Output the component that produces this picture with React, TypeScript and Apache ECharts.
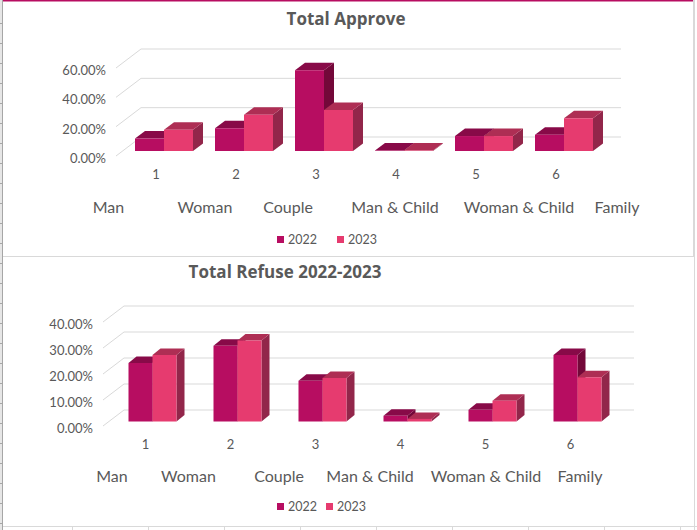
import React, { useEffect, useRef } from "react";
import * as echarts from "echarts";

const tickLabels = ["1", "2", "3", "4", "5", "6"];
const seriesNames = ["2022", "2023"];
const categoryNames = ["Man", "Woman", "Couple", "Man & Child", "Woman & Child", "Family"];

const approve2022 = [8.5, 15.5, 55, 0.3, 10.2, 11.1];
const approve2023 = [14.5, 24.8, 28, 0.3, 10.2, 22.3];
const refuse2022 = [22.5, 29.1, 15.7, 2.2, 4.5, 25.6];
const refuse2023 = [25.6, 31.2, 16.7, 1.0, 8.0, 17.0];

const approveTicks = [0, 20, 40, 60];
const refuseTicks = [0, 10, 20, 30, 40];

const approveNameX = [108.5, 205, 288, 395, 519, 617];
const refuseNameX = [112, 188.5, 279, 370, 486, 580];

const FONT = "Lato";
const TEXT = "#595959";
const FACES = [
  { front: "#B70D61", top: "#880A48", side: "#730839" },
  { front: "#E63B6F", top: "#AE2E54", side: "#92264A" },
];

const layouts = [
  { left: 116, width: 480, top: 68, height: 88, max: 60, wallDx: 25, wallDy: -19, barRatio: 29 / 80, shift: 8, base: -5, depthX: 10, depthY: 7.5 },
  { left: 103, width: 510, top: 322, height: 104, max: 40, wallDx: 21, wallDy: -16, barRatio: 24 / 85, shift: 7, base: -4.5, depthX: 8, depthY: 6.5 },
];

function wallRender(layoutIdx: number) {
  const l = layouts[layoutIdx];
  return (_: any, api: any) => {
    const v = api.value(0);
    const p = api.coord([0, v]);
    const x0 = l.left;
    const y = p[1];
    return {
      type: "polyline",
      silent: true,
      shape: {
        points: [
          [x0, y],
          [x0 + l.wallDx, y + l.wallDy],
          [x0 + l.width + l.wallDx, y + l.wallDy],
        ],
      },
      style: { fill: "none", stroke: "#D9D9D9", lineWidth: 1 },
    };
  };
}

function barRender(layoutIdx: number, seriesIdx: number) {
  const l = layouts[layoutIdx];
  const c = FACES[seriesIdx];
  return (_: any, api: any) => {
    const cat = api.value(0);
    const top = api.coord([cat, api.value(1)]);
    const bottom = api.coord([cat, 0]);
    const w = api.size([1, 0])[0] * l.barRatio;
    const x0 = top[0] + l.shift - w + seriesIdx * w;
    const x1 = x0 + w;
    const yB = bottom[1] + l.base;
    const yT = top[1] + l.base;
    const dx = l.depthX;
    const dy = l.depthY;
    return {
      type: "group",
      children: [
        { type: "polygon", shape: { points: [[x1, yB], [x1 + dx, yB - dy], [x1 + dx, yT - dy], [x1, yT]] }, style: { fill: c.side } },
        { type: "polygon", shape: { points: [[x0, yT], [x1, yT], [x1 + dx, yT - dy], [x0 + dx, yT - dy]] }, style: { fill: c.top } },
        { type: "rect", shape: { x: x0, y: yT, width: w, height: Math.max(yB - yT, 0) }, style: { fill: c.front } },
      ],
    };
  };
}

function makeSeries(name: string, values: number[], g: number, s: number) {
  return {
    type: "custom",
    name,
    xAxisIndex: g,
    yAxisIndex: g,
    coordinateSystem: "cartesian2d",
    clip: false,
    z: 5,
    itemStyle: { color: FACES[s].front },
    encode: { x: 0, y: 1 },
    data: values.map((v, i) => [i, v]),
    renderItem: barRender(g, s),
  };
}

function makeWall(ticks: number[], g: number) {
  return {
    type: "custom",
    xAxisIndex: g,
    yAxisIndex: g,
    coordinateSystem: "cartesian2d",
    clip: false,
    silent: true,
    z: 1,
    encode: { x: 1, y: 0 },
    data: ticks.map((t) => [t, 0]),
    renderItem: wallRender(g),
  };
}

function axes(g: number, interval: number) {
  const l = layouts[g];
  return {
    x: {
      type: "category",
      gridIndex: g,
      data: tickLabels,
      axisLine: { show: false },
      axisTick: { show: false },
      axisLabel: { color: TEXT, fontFamily: FONT, fontSize: 13, margin: 11 },
    },
    y: {
      type: "value",
      gridIndex: g,
      min: 0,
      max: l.max,
      interval,
      splitLine: { show: false },
      axisLine: { show: false },
      axisTick: { show: false },
      axisLabel: {
        color: TEXT,
        fontFamily: FONT,
        fontSize: 13,
        margin: 10,
        formatter: (v: number) => "{a|" + v.toFixed(2) + "%}",
        rich: { a: { color: TEXT, fontFamily: FONT, fontSize: 13, padding: [4, 0, 0, 0] } },
      },
    },
  };
}

function nameTexts(xs: number[], y: number) {
  return categoryNames.map((n, i) => ({
    type: "text",
    x: xs[i],
    y,
    style: { text: n, fill: TEXT, font: `16px ${FONT}`, textAlign: "center", textVerticalAlign: "middle" },
  }));
}

function frame() {
  const line = (x1: number, y1: number, x2: number, y2: number, stroke: string, lineWidth = 1) => ({
    type: "line",
    silent: true,
    shape: { x1, y1, x2, y2 },
    style: { stroke, lineWidth },
  });
  const out: any[] = [
    { type: "rect", silent: true, shape: { x: 0, y: 0, width: 2, height: 530 }, style: { fill: "#E6E6E6" } },
    line(2.5, 0, 2.5, 530, "#A6A6A6"),
    line(3, 0.75, 693, 0.75, "#B70D61", 1.5),
    line(3, 256.5, 694, 256.5, "#D9D9D9"),
    line(3, 526.5, 697, 526.5, "#D9D9D9"),
    line(694, 0, 694, 256, "#D9D9D9", 2),
    line(694.5, 256, 694.5, 530, "#D9D9D9"),
  ];
  for (let y = 23; y < 530; y += 20) out.push(line(0, y + 0.5, 2, y + 0.5, "#A6A6A6"));
  for (let x = 72; x < 697; x += 76) out.push(line(x + 0.5, 526, x + 0.5, 530, "#D9D9D9"));
  return out;
}

export default function App() {
  const ref = useRef<HTMLDivElement>(null);
  useEffect(() => {
    const chart = echarts.init(ref.current!, undefined, { renderer: "svg" });
    const a0 = axes(0, 20);
    const a1 = axes(1, 10);
    const legendText = { color: TEXT, fontFamily: FONT, fontSize: 12.5, padding: [0, 0, 0, -1] };
    chart.setOption({
      animation: false,
      backgroundColor: "#fff",
      title: [
        { text: "Total Approve", left: 341, top: 5, textAlign: "center", textStyle: { color: TEXT, fontFamily: "Open Sans", fontSize: 17, fontWeight: "bold" } },
        { text: "Total Refuse 2022-2023", left: 280, top: 258, textAlign: "center", textStyle: { color: TEXT, fontFamily: "Open Sans", fontSize: 17, fontWeight: "bold" } },
      ],
      legend: [
        { data: seriesNames, left: 272, top: 228, itemWidth: 7, itemHeight: 7, itemGap: 20, icon: "rect", textStyle: legendText },
        { data: seriesNames, left: 272, top: 495, itemWidth: 7, itemHeight: 7, itemGap: 9, icon: "rect", textStyle: legendText },
      ],
      grid: layouts.map((l) => ({ left: l.left, width: l.width, top: l.top, height: l.height, containLabel: false })),
      xAxis: [a0.x, a1.x],
      yAxis: [a0.y, a1.y],
      series: [
        makeWall(approveTicks, 0),
        makeWall(refuseTicks, 1),
        makeSeries(seriesNames[0], approve2022, 0, 0),
        makeSeries(seriesNames[1], approve2023, 0, 1),
        makeSeries(seriesNames[0], refuse2022, 1, 0),
        makeSeries(seriesNames[1], refuse2023, 1, 1),
      ],
      graphic: [...frame(), ...nameTexts(approveNameX, 206), ...nameTexts(refuseNameX, 475)],
    });
    return () => chart.dispose();
  }, []);
  return <div ref={ref} style={{ position: "absolute", left: 0, top: 0, width: 697, height: 530 }} />;
}
